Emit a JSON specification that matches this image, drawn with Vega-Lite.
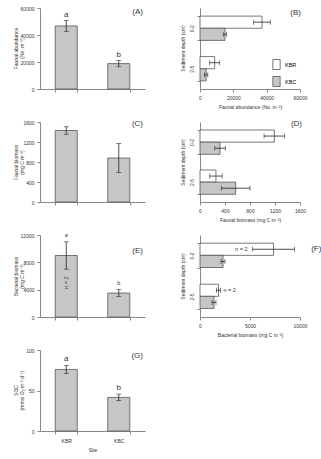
{
  "$schema": "https://vega.github.io/schema/vega-lite/v6.json",
  "padding": {"left": 13, "top": 6, "right": 0, "bottom": 2},
  "datasets": {
    "fauna_abund": [
      {"site": "KBR", "value": 46700, "lo": 42700, "hi": 50700, "letter": "a"},
      {"site": "KBC", "value": 18800, "lo": 16500, "hi": 21100, "letter": "b"}
    ],
    "fauna_biom": [
      {"site": "KBR", "value": 1430, "lo": 1355, "hi": 1505},
      {"site": "KBC", "value": 880, "lo": 590, "hi": 1170}
    ],
    "bact_biom": [
      {"site": "KBR", "value": 9000, "lo": 7000, "hi": 11000, "letter": "a", "n": "n = 2"},
      {"site": "KBC", "value": 3500, "lo": 3000, "hi": 4000, "letter": "b"}
    ],
    "soc": [
      {"site": "KBR", "value": 76, "lo": 71, "hi": 81, "letter": "a"},
      {"site": "KBC", "value": 41.5, "lo": 37.5, "hi": 45.5, "letter": "b"}
    ],
    "fauna_abund_depth": [
      {"depth": "0-2", "site": "KBR", "value": 37200, "lo": 32200, "hi": 42200},
      {"depth": "0-2", "site": "KBC", "value": 15000, "lo": 14000, "hi": 16000},
      {"depth": "2-5", "site": "KBR", "value": 8800, "lo": 5800, "hi": 11800},
      {"depth": "2-5", "site": "KBC", "value": 3700, "lo": 2700, "hi": 4700}
    ],
    "fauna_biom_depth": [
      {"depth": "0-2", "site": "KBR", "value": 1190, "lo": 1025, "hi": 1355},
      {"depth": "0-2", "site": "KBC", "value": 320, "lo": 235, "hi": 405},
      {"depth": "2-5", "site": "KBR", "value": 255, "lo": 155, "hi": 355},
      {"depth": "2-5", "site": "KBC", "value": 570, "lo": 340, "hi": 800}
    ],
    "bact_biom_depth": [
      {"depth": "0-2", "site": "KBR", "value": 7350, "lo": 5250, "hi": 9450, "n": "n = 2"},
      {"depth": "0-2", "site": "KBC", "value": 2300, "lo": 2100, "hi": 2500},
      {"depth": "2-5", "site": "KBR", "value": 1850, "lo": 1650, "hi": 2050, "n": "n = 2"},
      {"depth": "2-5", "site": "KBC", "value": 1400, "lo": 1200, "hi": 1600}
    ]
  },
  "bounds": "flush",
  "columns": 2,
  "spacing": {"row": 33, "column": 55},
  "resolve": {"scale": {"fill": "independent"}, "legend": {"fill": "independent"}},
  "concat": [
    {
      "title": {"text": "(A)", "offset": -9.5},
      "width": 105, "height": 81,
      "data": {"name": "fauna_abund"},
      "encoding": {"x": {"field": "site", "type": "nominal", "sort": ["KBR", "KBC"], "scale": {"paddingInner": 0.58, "paddingOuter": 0.29}, "axis": {"title": null, "labels": false, "tickBand": "extent"}}},
      "layer": [
        {"mark": {"type": "bar", "fill": "#c6c6c6", "stroke": "#555555", "strokeWidth": 0.8},
         "encoding": {"y": {"field": "value", "type": "quantitative", "scale": {"domain": [0, 60000]},
           "axis": {"values": [0, 20000, 40000, 60000], "tickCount": 12, "title": ["Faunal abundance", "(No. m⁻²)"], "titleX": -22, "titleY": 40}}}},
        {"mark": {"type": "rule", "color": "#222222", "strokeWidth": 0.8}, "encoding": {"y": {"field": "lo", "type": "quantitative"}, "y2": {"field": "hi"}}},
        {"mark": {"type": "tick", "color": "#222222", "size": 5, "thickness": 0.8}, "encoding": {"y": {"field": "lo", "type": "quantitative"}}},
        {"mark": {"type": "tick", "color": "#222222", "size": 5, "thickness": 0.8}, "encoding": {"y": {"field": "hi", "type": "quantitative"}}},
        {"mark": {"type": "text", "fontSize": 8, "baseline": "alphabetic", "dy": -4, "color": "#333333"}, "encoding": {"y": {"field": "hi", "type": "quantitative"}, "text": {"field": "letter"}}}
      ]
    },
    {
      "title": {"text": "(B)", "offset": -9, "dx": 1},
      "width": 100, "height": 81,
      "data": {"name": "fauna_abund_depth"},
      "encoding": {
        "y": {"field": "depth", "type": "nominal", "sort": ["0-2", "2-5"], "scale": {"paddingInner": 0.4, "paddingOuter": 0.2},
              "axis": {"title": "Sediment depth (cm)", "labelAngle": -90, "tickBand": "extent", "titleX": -15, "titleY": 40}},
        "yOffset": {"field": "site", "type": "nominal", "sort": ["KBR", "KBC"]}
      },
      "layer": [
        {"mark": {"type": "bar", "stroke": "#555555", "strokeWidth": 0.8},
         "encoding": {
           "x": {"field": "value", "type": "quantitative", "scale": {"domain": [0, 60000]},
                 "axis": {"values": [0, 20000, 40000, 60000], "tickCount": 12, "title": "Faunal abundance (No. m⁻²)"}},
           "fill": {"field": "site", "type": "nominal", "sort": ["KBR", "KBC"], "scale": {"range": ["#ffffff", "#c6c6c6"]},
                    "legend": {"orient": "none", "legendX": 71, "legendY": 51, "title": null, "padding": 0,
                               "symbolType": "M-0.73,-1H0.73V1H-0.73Z", "symbolSize": 100, "symbolStrokeColor": "#555555",
                               "symbolStrokeWidth": 0.8, "labelFontSize": 5.5, "labelOffset": 3, "rowPadding": 2}}
         }},
        {"mark": {"type": "rule", "color": "#222222", "strokeWidth": 0.8}, "encoding": {"x": {"field": "lo", "type": "quantitative"}, "x2": {"field": "hi"}}},
        {"mark": {"type": "tick", "color": "#222222", "size": 5, "thickness": 0.8}, "encoding": {"x": {"field": "lo", "type": "quantitative"}}},
        {"mark": {"type": "tick", "color": "#222222", "size": 5, "thickness": 0.8}, "encoding": {"x": {"field": "hi", "type": "quantitative"}}}
      ]
    },
    {
      "title": {"text": "(C)", "offset": -7.5},
      "width": 105, "height": 80,
      "data": {"name": "fauna_biom"},
      "encoding": {"x": {"field": "site", "type": "nominal", "sort": ["KBR", "KBC"], "scale": {"paddingInner": 0.58, "paddingOuter": 0.29}, "axis": {"title": null, "labels": false, "tickBand": "extent"}}},
      "layer": [
        {"mark": {"type": "bar", "fill": "#c6c6c6", "stroke": "#555555", "strokeWidth": 0.8},
         "encoding": {"y": {"field": "value", "type": "quantitative", "scale": {"domain": [0, 1600]},
           "axis": {"values": [0, 400, 800, 1200, 1600], "tickCount": 12, "title": ["Faunal biomass", "(mg C m⁻²)"], "titleX": -22, "titleY": 40}}}},
        {"mark": {"type": "rule", "color": "#222222", "strokeWidth": 0.8}, "encoding": {"y": {"field": "lo", "type": "quantitative"}, "y2": {"field": "hi"}}},
        {"mark": {"type": "tick", "color": "#222222", "size": 5, "thickness": 0.8}, "encoding": {"y": {"field": "lo", "type": "quantitative"}}},
        {"mark": {"type": "tick", "color": "#222222", "size": 5, "thickness": 0.8}, "encoding": {"y": {"field": "hi", "type": "quantitative"}}}
      ]
    },
    {
      "title": {"text": "(D)", "offset": -5.5, "dx": 2},
      "width": 100, "height": 80,
      "data": {"name": "fauna_biom_depth"},
      "encoding": {
        "y": {"field": "depth", "type": "nominal", "sort": ["0-2", "2-5"], "scale": {"paddingInner": 0.4, "paddingOuter": 0.2},
              "axis": {"title": "Sediment depth (cm)", "labelAngle": -90, "tickBand": "extent", "titleX": -15, "titleY": 40}},
        "yOffset": {"field": "site", "type": "nominal", "sort": ["KBR", "KBC"]}
      },
      "layer": [
        {"mark": {"type": "bar", "stroke": "#555555", "strokeWidth": 0.8},
         "encoding": {
           "x": {"field": "value", "type": "quantitative", "scale": {"domain": [0, 1600]},
                 "axis": {"values": [0, 400, 800, 1200, 1600], "tickCount": 12, "title": "Faunal biomass (mg C m⁻²)"}},
           "fill": {"field": "site", "type": "nominal", "sort": ["KBR", "KBC"], "scale": {"range": ["#ffffff", "#c6c6c6"]}, "legend": null}
         }},
        {"mark": {"type": "rule", "color": "#222222", "strokeWidth": 0.8}, "encoding": {"x": {"field": "lo", "type": "quantitative"}, "x2": {"field": "hi"}}},
        {"mark": {"type": "tick", "color": "#222222", "size": 5, "thickness": 0.8}, "encoding": {"x": {"field": "lo", "type": "quantitative"}}},
        {"mark": {"type": "tick", "color": "#222222", "size": 5, "thickness": 0.8}, "encoding": {"x": {"field": "hi", "type": "quantitative"}}}
      ]
    },
    {
      "title": {"text": "(E)", "offset": -22.5},
      "width": 105, "height": 82,
      "data": {"name": "bact_biom"},
      "encoding": {"x": {"field": "site", "type": "nominal", "sort": ["KBR", "KBC"], "scale": {"paddingInner": 0.58, "paddingOuter": 0.29}, "axis": {"title": null, "labels": false, "tickBand": "extent"}}},
      "layer": [
        {"mark": {"type": "bar", "fill": "#c6c6c6", "stroke": "#555555", "strokeWidth": 0.8},
         "encoding": {"y": {"field": "value", "type": "quantitative", "scale": {"domain": [0, 12000]},
           "axis": {"values": [0, 4000, 8000, 12000], "tickCount": 12, "title": ["Bacterial biomass", "(mg C m⁻²)"], "titleX": -22, "titleY": 41}}}},
        {"mark": {"type": "rule", "color": "#222222", "strokeWidth": 0.8}, "encoding": {"y": {"field": "lo", "type": "quantitative"}, "y2": {"field": "hi"}}},
        {"mark": {"type": "tick", "color": "#222222", "size": 5, "thickness": 0.8}, "encoding": {"y": {"field": "lo", "type": "quantitative"}}},
        {"mark": {"type": "tick", "color": "#222222", "size": 5, "thickness": 0.8}, "encoding": {"y": {"field": "hi", "type": "quantitative"}}},
        {"mark": {"type": "text", "fontSize": 5.5, "baseline": "alphabetic", "dy": -5, "color": "#333333"}, "encoding": {"y": {"field": "hi", "type": "quantitative"}, "text": {"field": "letter"}}},
        {"transform": [{"filter": "datum.n"}],
         "mark": {"type": "text", "fontSize": 5.5, "angle": -90, "align": "right", "baseline": "middle", "dx": -21, "color": "#333333"},
         "encoding": {"y": {"field": "value", "type": "quantitative"}, "text": {"field": "n"}}}
      ]
    },
    {
      "title": {"text": "(F)", "orient": "right", "angle": 0, "anchor": "start", "baseline": "middle", "align": "left", "offset": -6, "dy": 14, "dx": 0},
      "width": 100, "height": 82,
      "data": {"name": "bact_biom_depth"},
      "encoding": {
        "y": {"field": "depth", "type": "nominal", "sort": ["0-2", "2-5"], "scale": {"paddingInner": 0.4, "paddingOuter": 0.2},
              "axis": {"title": "Sediment depth (cm)", "labelAngle": -90, "tickBand": "extent", "titleX": -15, "titleY": 41}},
        "yOffset": {"field": "site", "type": "nominal", "sort": ["KBR", "KBC"]}
      },
      "layer": [
        {"mark": {"type": "bar", "stroke": "#555555", "strokeWidth": 0.8},
         "encoding": {
           "x": {"field": "value", "type": "quantitative", "scale": {"domain": [0, 10000]},
                 "axis": {"values": [0, 5000, 10000], "tickCount": 12, "title": "Bacterial biomass (mg C m⁻²)"}},
           "fill": {"field": "site", "type": "nominal", "sort": ["KBR", "KBC"], "scale": {"range": ["#ffffff", "#c6c6c6"]}, "legend": null}
         }},
        {"mark": {"type": "rule", "color": "#222222", "strokeWidth": 0.8}, "encoding": {"x": {"field": "lo", "type": "quantitative"}, "x2": {"field": "hi"}}},
        {"mark": {"type": "tick", "color": "#222222", "size": 5, "thickness": 0.8}, "encoding": {"x": {"field": "lo", "type": "quantitative"}}},
        {"mark": {"type": "tick", "color": "#222222", "size": 5, "thickness": 0.8}, "encoding": {"x": {"field": "hi", "type": "quantitative"}}},
        {"transform": [{"filter": "datum.n && datum.depth === '0-2'"}],
         "mark": {"type": "text", "fontSize": 5.5, "align": "right", "baseline": "middle", "dx": -5, "color": "#333333"},
         "encoding": {"x": {"field": "lo", "type": "quantitative"}, "text": {"field": "n"}}},
        {"transform": [{"filter": "datum.n && datum.depth === '2-5'"}],
         "mark": {"type": "text", "fontSize": 5.5, "align": "left", "baseline": "middle", "dx": 3, "color": "#333333"},
         "encoding": {"x": {"field": "hi", "type": "quantitative"}, "text": {"field": "n"}}}
      ]
    },
    {
      "title": {"text": "(G)", "offset": -11.5},
      "width": 105, "height": 81,
      "data": {"name": "soc"},
      "encoding": {"x": {"field": "site", "type": "nominal", "sort": ["KBR", "KBC"], "scale": {"paddingInner": 0.58, "paddingOuter": 0.29}, "axis": {"title": "Site", "labelAngle": 0, "tickBand": "extent", "labelPadding": 4, "titlePadding": 4}}},
      "layer": [
        {"mark": {"type": "bar", "fill": "#c6c6c6", "stroke": "#555555", "strokeWidth": 0.8},
         "encoding": {"y": {"field": "value", "type": "quantitative", "scale": {"domain": [0, 100]},
           "axis": {"values": [0, 50, 100], "tickCount": 12, "title": ["SOC", "(mmol O₂ m⁻² d⁻¹)"], "titleX": -22, "titleY": 40}}}},
        {"mark": {"type": "rule", "color": "#222222", "strokeWidth": 0.8}, "encoding": {"y": {"field": "lo", "type": "quantitative"}, "y2": {"field": "hi"}}},
        {"mark": {"type": "tick", "color": "#222222", "size": 5, "thickness": 0.8}, "encoding": {"y": {"field": "lo", "type": "quantitative"}}},
        {"mark": {"type": "tick", "color": "#222222", "size": 5, "thickness": 0.8}, "encoding": {"y": {"field": "hi", "type": "quantitative"}}},
        {"mark": {"type": "text", "fontSize": 8, "baseline": "alphabetic", "dy": -4, "color": "#333333"}, "encoding": {"y": {"field": "hi", "type": "quantitative"}, "text": {"field": "letter"}}}
      ]
    }
  ],
  "config": {
    "font": "Liberation Sans",
    "numberFormat": "d",
    "view": {"stroke": null},
    "axis": {
      "grid": false,
      "labelFontSize": 5,
      "titleFontSize": 5,
      "titleFontWeight": "normal",
      "labelColor": "#333333",
      "titleColor": "#333333",
      "domainColor": "#888888",
      "tickColor": "#888888",
      "tickSize": 3,
      "labelPadding": 3,
      "labelOverlap": false,
      "labelFlush": false,
      "titlePadding": 4,
      "titleLineHeight": 6
    },
    "title": {"fontSize": 8, "fontWeight": "normal", "color": "#333333", "anchor": "end", "frame": "group", "baseline": "top", "offset": 0, "dx": -2}
  }
}
